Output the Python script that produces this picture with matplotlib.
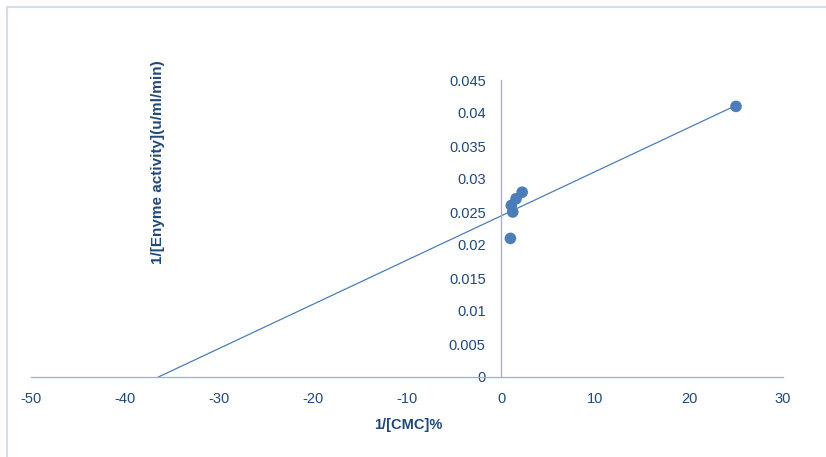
import numpy as np
import matplotlib
matplotlib.use("Agg")
from matplotlib import pyplot as plt
from matplotlib.lines import Line2D

# Lineweaver-Burk data: 1/[S] against 1/v
inv_cmc = [1.0, 1.25, 1.1, 1.6, 2.25, 25]
inv_activity = [0.021, 0.025, 0.026, 0.027, 0.028, 0.041]
x_ticks = [-50, -40, -30, -20, -10, 0, 10, 20, 30]
y_ticks = [0, 0.005, 0.01, 0.015, 0.02, 0.025, 0.03, 0.035, 0.04, 0.045]
y_tick_labels = ["0", "0.005", "0.01", "0.015", "0.02", "0.025", "0.03", "0.035", "0.04", "0.045"]

text_col = "#1F497D"
axis_col = "#8DB3E2"
point_col = "#4A7EBB"

plt.rcParams["font.family"] = ["Liberation Sans", "DejaVu Sans"]
plt.rcParams["axes.unicode_minus"] = False

fig = plt.figure(figsize=(8.26, 4.57), dpi=100)
ax = fig.add_axes([31 / 826, 80 / 457, 752 / 826, 297 / 457])

# linear trend, extended back to the x-intercept
slope, intercept = np.polyfit(inv_cmc, inv_activity, 1)
x0 = -intercept / slope
xs = np.array([x0, max(inv_cmc)])
ax.plot(xs, slope * xs + intercept, color=point_col, lw=0.9, zorder=2)
ax.scatter(inv_cmc, inv_activity, s=70, color=point_col, edgecolors="none", zorder=3)

ax.set_xlim(-50, 30)
ax.set_ylim(0, 0.045)
ax.set_xticks(x_ticks)
ax.set_yticks(y_ticks)
ax.set_yticklabels(y_tick_labels)

for side in ["top", "right"]:
    ax.spines[side].set_visible(False)
ax.spines["left"].set_position(("data", 0))
ax.spines["left"].set_color(axis_col)
ax.spines["bottom"].set_color(axis_col)
ax.spines["left"].set_linewidth(0.9)
ax.spines["bottom"].set_linewidth(0.9)
ax.tick_params(axis="both", length=0, labelsize=10.5, colors=text_col)
ax.tick_params(axis="y", pad=11)
ax.tick_params(axis="x", pad=11)
ax.patch.set_alpha(0)

fig.text(408 / 826, 1 - 425 / 457, "1/[CMC]%", ha="center", va="center",
         fontsize=10.5, fontweight="bold", color=text_col)
fig.text(158 / 826, 1 - 162 / 457, "1/[Enyme activity](u/ml/min)", ha="center", va="center",
         rotation=90, fontsize=11, fontweight="bold", color=text_col)

# chart area border (left and top edges only)
border = "#D5DFEC"
fig.add_artist(Line2D([7 / 826, 7 / 826], [0, 1 - 7 / 457], transform=fig.transFigure, color=border, lw=1.5))
fig.add_artist(Line2D([7 / 826, 1], [1 - 7 / 457, 1 - 7 / 457], transform=fig.transFigure, color=border, lw=1.5))

fig.savefig("out.png", dpi=100)
